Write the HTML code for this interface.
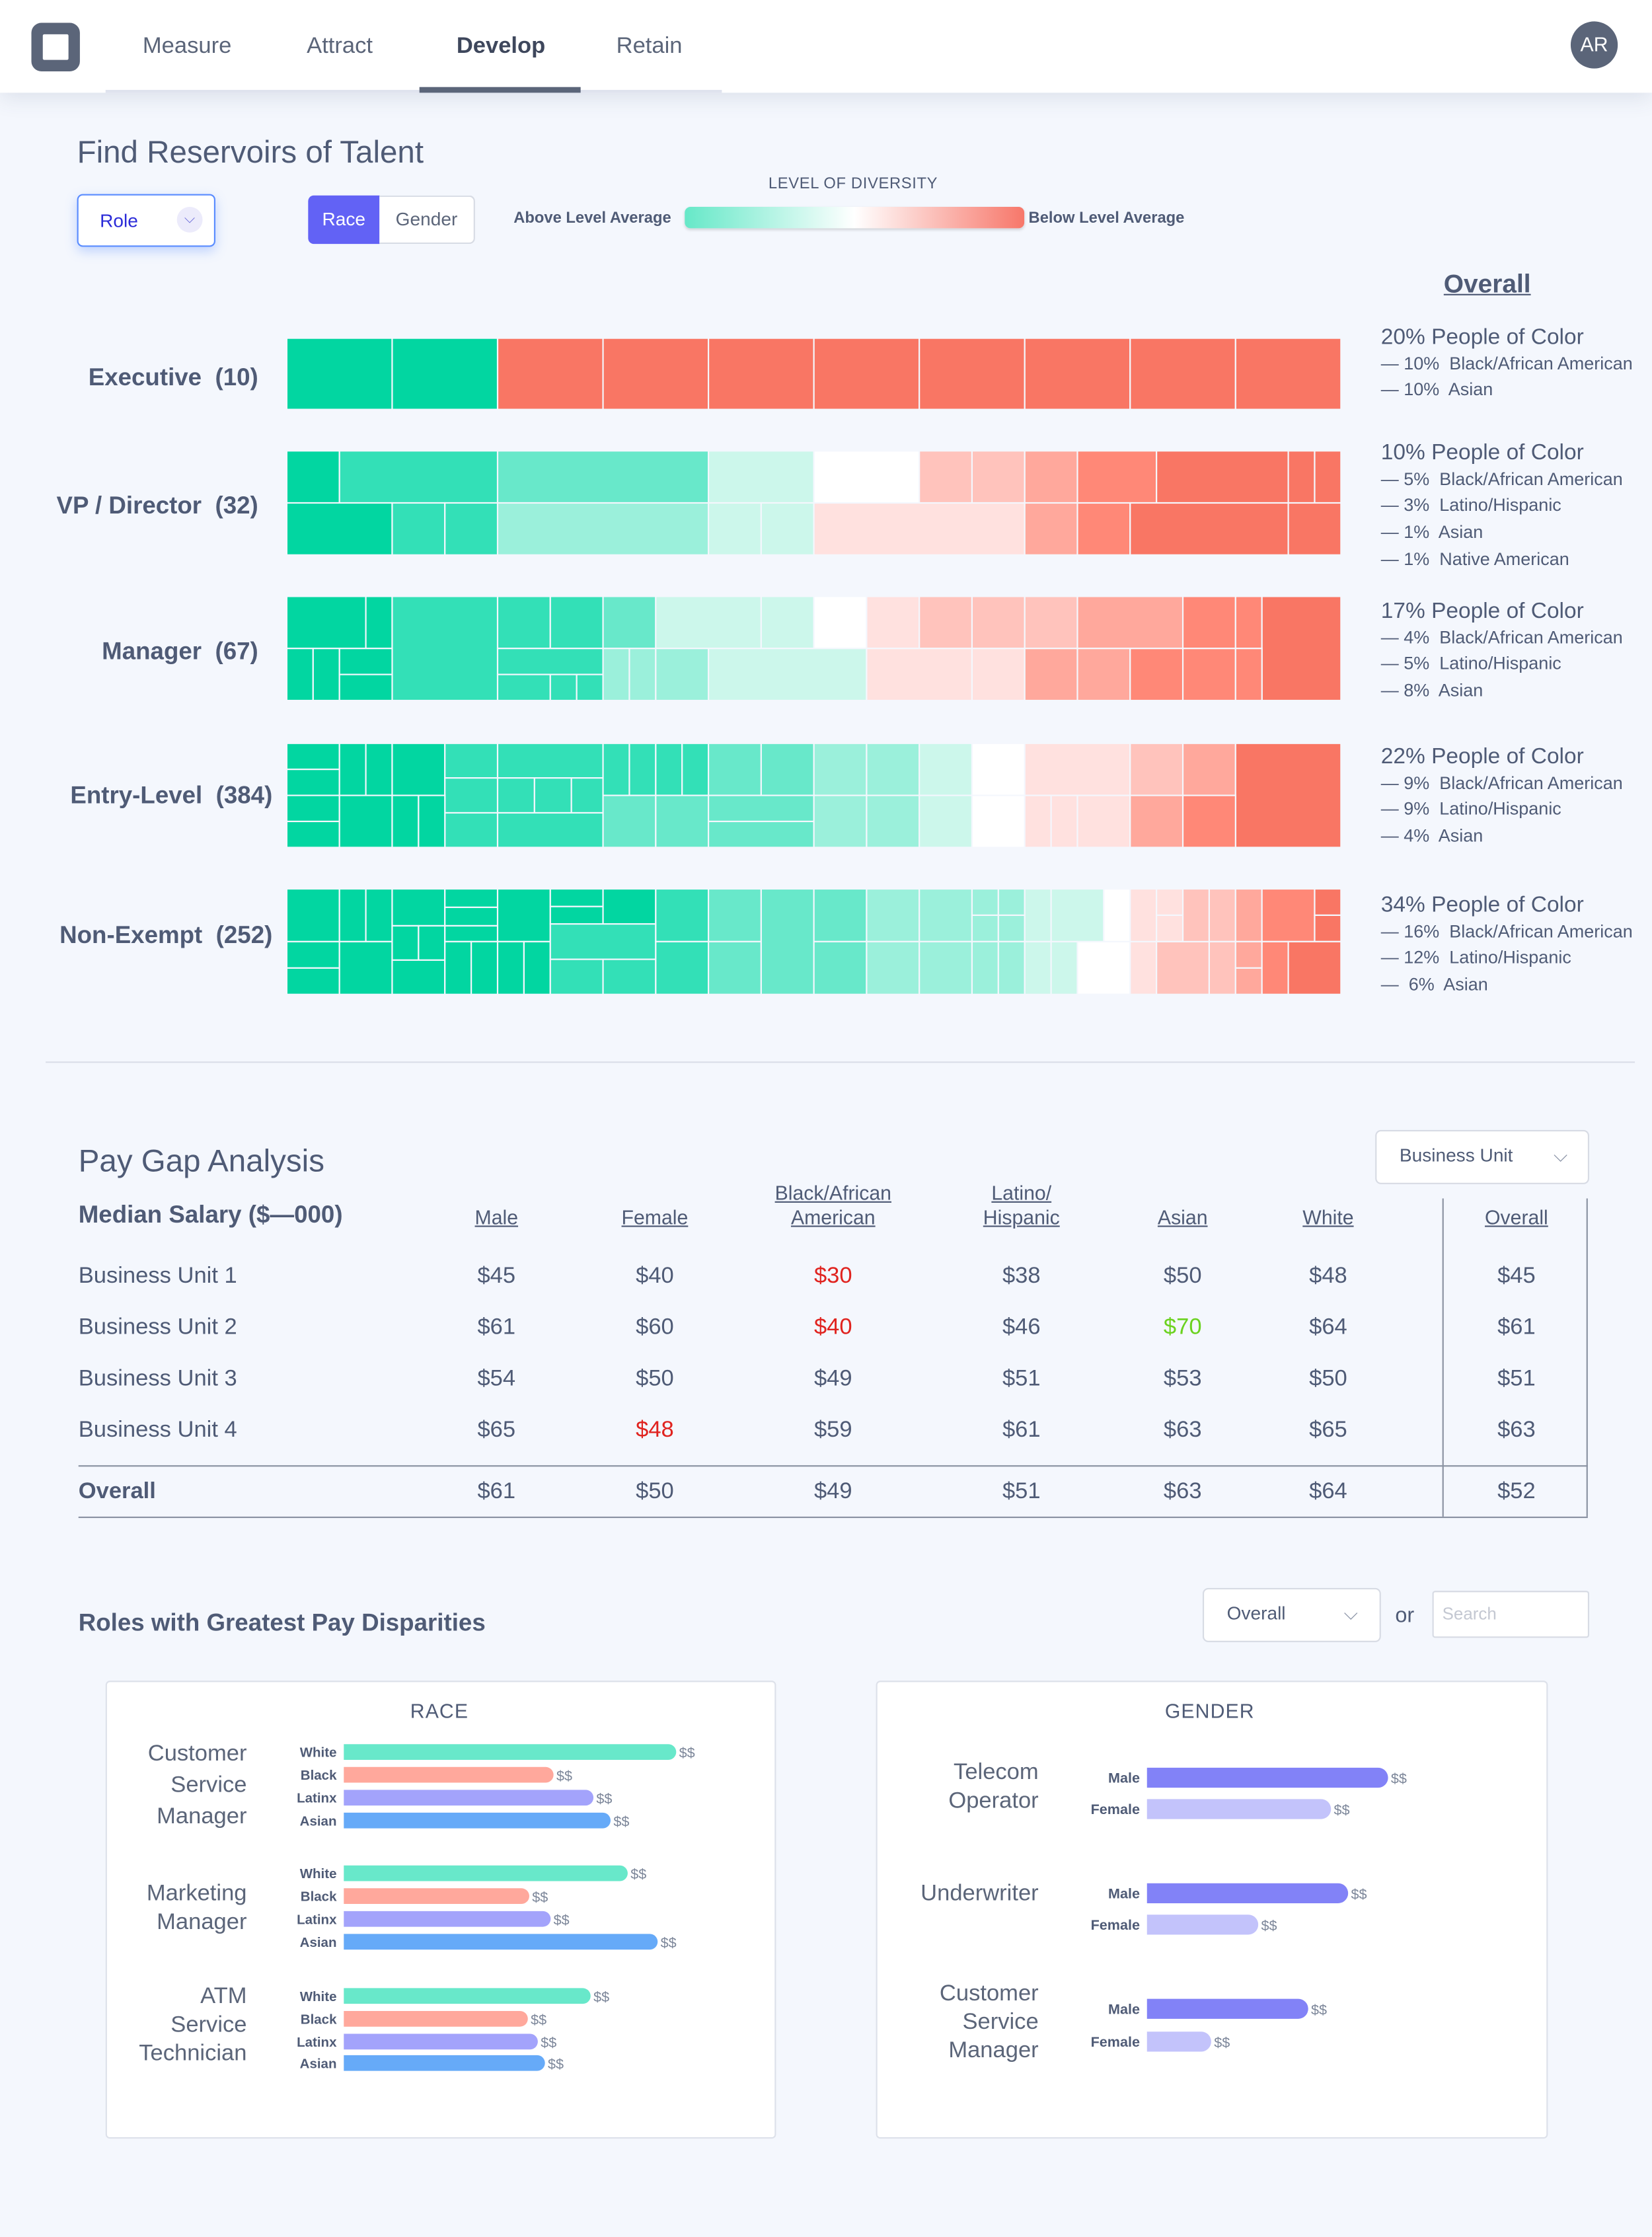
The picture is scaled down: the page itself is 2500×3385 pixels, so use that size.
<!DOCTYPE html>
<html><head><meta charset="utf-8"><style>
html,body{margin:0;padding:0;background:#f4f7fd;}
#root{position:absolute;left:0;top:0;width:1158px;height:1568px;transform:scale(2.15889);transform-origin:0 0;background:#f4f7fd;font-family:"Liberation Sans",sans-serif;color:#4f5b76;overflow:hidden;}
.a{position:absolute;white-space:nowrap;}
.hd{position:absolute;left:0;top:0;width:1158px;height:65px;background:#fff;box-shadow:0 4px 14px rgba(60,70,110,0.12);}
.nav{font-size:16px;color:#5b6579;top:24px;}
.c{transform:translateX(-50%);text-align:center;}
.th{font-size:14px;text-decoration:underline;color:#4f5b76;line-height:17px;}
.td{font-size:16px;}
.role{font-size:17px;font-weight:bold;color:#4f5b76;}
.ov{font-size:15.5px;color:#4f5b76;line-height:17.7px;}
.ov small{font-size:12.5px;}
.card{position:absolute;background:#fff;border:1px solid #dde1ea;border-radius:3px;}
.sel{position:absolute;background:#fff;border:1px solid #d7dbe4;border-radius:4px;font-size:13px;color:#4f5b76;}
</style></head><body>
<div id="root">
<div class="hd">
  <div class="a" style="left:22px;top:16px;width:34px;height:34px;background:#5b6579;border-radius:7px;"><div style="position:absolute;left:8px;top:8px;width:18px;height:18px;background:#fff;border-radius:1px;"></div></div>
  <div class="a nav" style="left:100px;">Measure</div>
  <div class="a nav" style="left:215px;">Attract</div>
  <div class="a nav" style="left:320px;font-weight:bold;color:#3e475c;">Develop</div>
  <div class="a nav" style="left:432px;">Retain</div>
  <div class="a" style="left:74px;top:63px;width:432px;height:2px;background:#dfe3ee;"></div>
  <div class="a" style="left:294px;top:61px;width:113px;height:4px;background:#5b6579;"></div>
  <div class="a" style="left:1101px;top:15px;width:33px;height:33px;border-radius:50%;background:#5b6579;color:#fff;font-size:14px;line-height:33px;text-align:center;">AR</div>
</div>

<div class="a" style="left:54px;top:94px;font-size:22px;color:#4f5b76;">Find Reservoirs of Talent</div>
<div class="a" style="left:54px;top:136px;width:95px;height:35px;background:#fff;border:1px solid #5a8cff;border-radius:4px;box-shadow:0 3px 8px rgba(90,140,255,0.35);">
  <span class="a" style="left:15px;top:10px;font-size:13px;color:#2b2bd8;">Role</span>
  <span class="a" style="left:69px;top:8px;width:18px;height:18px;border-radius:50%;background:#ecebfb;color:#6b6bd8;font-size:10px;text-align:center;line-height:18px;">⌵</span>
</div>
<div class="a" style="left:216px;top:137px;width:50px;height:34px;background:#6262f5;border-radius:4px 0 0 4px;color:#fff;font-size:13px;line-height:34px;text-align:center;">Race</div>
<div class="a" style="left:266px;top:137px;width:66px;height:32px;background:#fff;border:1px solid #d7dbe4;border-left:none;border-radius:0 4px 4px 0;color:#5b6579;font-size:13px;line-height:32px;text-align:center;">Gender</div>
<div class="a c" style="left:598px;top:123px;font-size:11px;letter-spacing:0.3px;color:#4f5b76;">LEVEL OF DIVERSITY</div>
<div class="a" style="left:360px;top:147px;font-size:11px;font-weight:bold;color:#4f5b76;">Above Level Average</div>
<div class="a" style="left:480px;top:145px;width:238px;height:15px;border-radius:4px;background:linear-gradient(90deg,#66e8c8,#ffffff 50%,#f7776a);box-shadow:0 1px 2px rgba(0,0,0,0.15);"></div>
<div class="a" style="left:721px;top:147px;font-size:11px;font-weight:bold;color:#4f5b76;">Below Level Average</div>

<div class="a" style="left:1012px;top:189px;font-size:18px;font-weight:bold;text-decoration:underline;color:#4f5b76;">Overall</div>

<div class="a role" style="right:977px;top:255px;">Executive&nbsp;&nbsp;(10)</div>
<div class="a role" style="right:977px;top:345px;">VP / Director&nbsp;&nbsp;(32)</div>
<div class="a role" style="right:977px;top:447px;">Manager&nbsp;&nbsp;(67)</div>
<div class="a role" style="right:967px;top:548px;">Entry-Level&nbsp;&nbsp;(384)</div>
<div class="a role" style="right:967px;top:646px;">Non-Exempt&nbsp;&nbsp;(252)</div>

<div class="a ov" style="left:968px;top:228px;">20% People of Color<br><small>— 10%&nbsp; Black/African American<br>— 10%&nbsp; Asian</small></div>
<div class="a ov" style="left:968px;top:309px;">10% People of Color<br><small>— 5%&nbsp; Black/African American<br>— 3%&nbsp; Latino/Hispanic<br>— 1%&nbsp; Asian<br>— 1%&nbsp; Native American</small></div>
<div class="a ov" style="left:968px;top:420px;">17% People of Color<br><small>— 4%&nbsp; Black/African American<br>— 5%&nbsp; Latino/Hispanic<br>— 8%&nbsp; Asian</small></div>
<div class="a ov" style="left:968px;top:522px;">22% People of Color<br><small>— 9%&nbsp; Black/African American<br>— 9%&nbsp; Latino/Hispanic<br>— 4%&nbsp; Asian</small></div>
<div class="a ov" style="left:968px;top:626px;">34% People of Color<br><small>— 16%&nbsp; Black/African American<br>— 12%&nbsp; Latino/Hispanic<br>— &nbsp;6%&nbsp; Asian</small></div>

<svg class="a" id="tm" style="left:0;top:0;" width="1158" height="720"></svg>

<div class="a" style="left:32px;top:744px;width:1114px;height:1px;background:#dadee8;"></div>

<div class="a" style="left:55px;top:801px;font-size:22px;color:#4f5b76;">Pay Gap Analysis</div>
<div class="sel" style="left:964px;top:792px;width:148px;height:36px;"><span class="a" style="left:16px;top:9px;">Business Unit</span><span class="a" style="left:124px;top:9px;color:#8a93a6;">⌵</span></div>
<div class="a" style="left:55px;top:842px;font-size:17px;font-weight:bold;color:#4f5b76;">Median Salary ($—000)</div>
<div class="a th c" style="left:348px;top:845px;">Male</div>
<div class="a th c" style="left:459px;top:845px;">Female</div>
<div class="a th c" style="left:584px;top:828px;">Black/African<br>American</div>
<div class="a th c" style="left:716px;top:828px;">Latino/<br>Hispanic</div>
<div class="a th c" style="left:829px;top:845px;">Asian</div>
<div class="a th c" style="left:931px;top:845px;">White</div>
<div class="a th c" style="left:1063px;top:845px;">Overall</div>
<div class="a" style="left:1011px;top:840px;width:1px;height:223px;background:#8a92a2;"></div>
<div class="a" style="left:1112px;top:840px;width:1px;height:223px;background:#8a92a2;"></div>
<div class="a" style="left:55px;top:1027px;width:1058px;height:1px;background:#8a92a2;"></div>
<div class="a" style="left:55px;top:1063px;width:1058px;height:1px;background:#8a92a2;"></div>
<div id="tbl"></div>

<div class="a" style="left:55px;top:1128px;font-size:17px;font-weight:bold;color:#4f5b76;">Roles with Greatest Pay Disparities</div>
<div class="sel" style="left:843px;top:1113px;width:123px;height:36px;"><span class="a" style="left:16px;top:9px;">Overall</span><span class="a" style="left:98px;top:9px;color:#8a93a6;">⌵</span></div>
<div class="a" style="left:978px;top:1124px;font-size:15px;">or</div>
<div class="sel" style="left:1004px;top:1115px;width:108px;height:31px;border-radius:2px;"><span class="a" style="left:6px;top:8px;font-size:12px;color:#c4c8d2;">Search</span></div>

<div class="card" style="left:74px;top:1178px;width:468px;height:319px;"></div>
<div class="card" style="left:614px;top:1178px;width:469px;height:319px;"></div>
<div class="a c" style="left:308px;top:1191px;font-size:14px;letter-spacing:0.5px;">RACE</div>
<div class="a c" style="left:848px;top:1191px;font-size:14px;letter-spacing:0.5px;">GENDER</div>
<div class="a" style="right:985px;top:1219px;font-size:16px;text-align:right;line-height:22px;color:#5b6579;white-space:normal;">Customer<br>Service<br>Manager</div>
<div class="a" style="right:985px;top:1318px;font-size:16px;text-align:right;line-height:20px;color:#5b6579;">Marketing<br>Manager</div>
<div class="a" style="right:985px;top:1390px;font-size:16px;text-align:right;line-height:20px;color:#5b6579;">ATM<br>Service<br>Technician</div>
<div class="a" style="right:430px;top:1233px;font-size:16px;text-align:right;line-height:20px;color:#5b6579;">Telecom<br>Operator</div>
<div class="a" style="right:430px;top:1319px;font-size:16px;text-align:right;color:#5b6579;">Underwriter</div>
<div class="a" style="right:430px;top:1388px;font-size:16px;text-align:right;line-height:20px;color:#5b6579;">Customer<br>Service<br>Manager</div>
<svg class="a" id="bars" style="left:0;top:1170px;" width="1158" height="340"></svg>
</div>

<script>
// ---- treemap data: [col, span, y0, y1, level] columns of 20, rows in quarters
const levelColors = ["#02d6a1","#33e0b7","#68e8ca","#9bf0db","#ccf7eb","#ffffff","#ffe1df","#ffc3bc","#ffa89c","#ff8877","#f97664"];
const rowNames = ["executive","vp-director","manager","entry-level","non-exempt"];
const rowTops = [237,316,418,521,623];
const rowHeights = [50,73,73,73,74];
const execCells = [[0,2,0,4,0],[2,2,0,4,0],[4,2,0,4,10],[6,2,0,4,10],[8,2,0,4,10],[10,2,0,4,10],[12,2,0,4,10],[14,2,0,4,10],[16,2,0,4,10],[18,2,0,4,10]];
const vpCells = [[0,1,0,2,0],[1,3,0,2,1],[4,4,0,2,2],[8,2,0,2,4],[10,2,0,2,5],[12,1,0,2,7],[13,1,0,2,7],[14,1,0,2,8],[15,1.5,0,2,9],[16.5,2.5,0,2,10],[19,0.5,0,2,10],[19.5,0.5,0,2,10],
 [0,2,2,4,0],[2,1,2,4,1],[3,1,2,4,1],[4,4,2,4,3],[8,1,2,4,4],[9,1,2,4,4],[10,4,2,4,6],[14,1,2,4,8],[15,1,2,4,9],[16,3,2,4,10],[19,1,2,4,10]];
const mgrCells = [[0,1.5,0,2,0],[1.5,0.5,0,2,0],[2,2,0,4,1],[4,1,0,2,1],[5,1,0,2,1],[6,1,0,2,2],[7,2,0,2,4],[9,1,0,2,4],[10,1,0,2,5],[11,1,0,2,6],[12,1,0,2,7],[13,1,0,2,7],[14,1,0,2,7],[15,2,0,2,8],[17,1,0,2,9],[18,0.5,0,2,9],[18.5,1.5,0,4,10],
 [0,0.5,2,4,0],[0.5,0.5,2,4,0],[1,1,2,3,0],[1,1,3,4,0],[4,2,2,3,1],[4,1,3,4,1],[5,0.5,3,4,1],[5.5,0.5,3,4,1],[6,0.5,2,4,3],[6.5,0.5,2,4,3],[7,1,2,4,3],[8,3,2,4,4],[11,2,2,4,6],[13,1,2,4,6],[14,1,2,4,8],[15,1,2,4,8],[16,1,2,4,9],[17,1,2,4,9],[18,0.5,2,4,9]];
const entryCells = [[0,1,0,1,0],[0,1,1,2,0],[1,0.5,0,2,0],[1.5,0.5,0,2,0],[2,1,0,2,0],[3,1,0,1.33,1],[4,2,0,1.33,1],[3,1,1.33,2.67,1],[4,0.7,1.33,2.67,1],[4.7,0.7,1.33,2.67,1],[5.4,0.6,1.33,2.67,1],[3,1,2.67,4,1],[4,2,2.67,4,1],[6,0.5,0,2,1],[6.5,0.5,0,2,1],[7,0.5,0,2,1],[7.5,0.5,0,2,1],[8,1,0,2,2],[9,1,0,2,2],[10,1,0,2,3],[11,1,0,2,3],[12,1,0,2,4],[13,1,0,2,5],[14,2,0,2,6],[16,1,0,2,7],[17,1,0,2,8],[18,2,0,4,10],
 [0,1,2,3,0],[0,1,3,4,0],[1,1,2,4,0],[2,0.5,2,4,0],[2.5,0.5,2,4,0],[6,1,2,4,2],[7,1,2,4,2],[8,2,2,3,2],[8,2,3,4,2],[10,1,2,4,3],[11,1,2,4,3],[12,1,2,4,4],[13,1,2,4,5],[14,0.5,2,4,6],[14.5,0.5,2,4,6],[15,1,2,4,6],[16,1,2,4,8],[17,1,2,4,9]];
const nonexCells = [[0,1,0,2,0],[0,1,2,3,0],[0,1,3,4,0],[1,0.5,0,2,0],[1.5,0.5,0,2,0],[1,1,2,4,0],[2,1,0,1.4,0],[2,0.5,1.4,2.7,0],[2.5,0.5,1.4,2.7,0],[2,1,2.7,4,0],[3,1,0,0.7,0],[3,1,0.7,1.4,0],[3,1,1.4,2,0],[3,0.5,2,4,0],[3.5,0.5,2,4,0],[4,1,0,2,0],[4,0.5,2,4,0],[4.5,0.5,2,4,0],[5,1,0,0.67,0],[5,1,0.67,1.33,0],[6,1,0,1.33,0],[5,2,1.33,2.67,1],[5,1,2.67,4,1],[6,1,2.67,4,1],[7,1,0,2,1],[7,1,2,4,1],[8,1,0,2,2],[8,1,2,4,2],[9,1,0,4,2],[10,1,0,2,2],[10,1,2,4,2],[11,1,0,2,3],[11,1,2,4,3],[12,1,0,2,3],[12,1,2,4,3],[13,0.5,0,1,3],[13.5,0.5,0,1,3],[13,0.5,1,2,3],[13.5,0.5,1,2,3],[13,0.5,2,4,3],[13.5,0.5,2,4,3],[14,0.5,0,2,4],[14.5,1,0,2,4],[14,0.5,2,4,4],[14.5,0.5,2,4,4],[15,1,2,4,5],[15.5,0.5,0,2,5],[16,0.5,0,2,6],[16.5,0.5,0,1,6],[16.5,0.5,1,2,6],[16,0.5,2,4,6],[16.5,1,2,4,7],[17,0.5,0,2,7],[17.5,0.5,0,2,7],[17.5,0.5,2,4,7],[18,0.5,0,2,8],[18,0.5,2,3,8],[18,0.5,3,4,8],[18.5,1,0,2,9],[18.5,0.5,2,4,9],[19.5,0.5,0,1,10],[19.5,0.5,1,2,10],[19,1,2,4,10]];
const allRows = [execCells,vpCells,mgrCells,entryCells,nonexCells];

// ---- pay gap table data
const tableRows = ["Business Unit 1","Business Unit 2","Business Unit 3","Business Unit 4","Overall"];
const tableCols = ["male","female","black","latino","asian","white","overall"];
const tableValues = [[45,40,30,38,50,48,45],[61,60,40,46,70,64,61],[54,50,49,51,53,50,51],[65,48,59,61,63,65,63],[61,50,49,51,63,64,52]];
const tableFlags = [[0,0,1,0,0,0,0],[0,0,1,0,2,0,0],[0,0,0,0,0,0,0],[0,1,0,0,0,0,0],[0,0,0,0,0,0,0]];

// ---- disparity bars data (relative salary units)
const raceGroups = ["customer-service-manager","marketing-manager","atm-service-technician"];
const raceLabels = ["White","Black","Latinx","Asian"];
const raceValues = [[233,147,175,187],[199,130,145,220],[173,129,136,141]];
const genderGroups = ["telecom-operator","underwriter","customer-service-manager"];
const genderLabels = ["Male","Female"];
const genderValues = [[169,129],[141,78],[113,45]];

const NS="http://www.w3.org/2000/svg";
function mk(tag,attrs,parent){const e=document.createElementNS(NS,tag);for(const k in attrs)e.setAttribute(k,attrs[k]);parent.appendChild(e);return e;}

// treemap axes
const tmX0=201, tmW=739, tmCols=20;
const xCol=c=>tmX0+c*tmW/tmCols;
const tm=document.getElementById('tm');
allRows.forEach((cells,r)=>{
  const yq=q=>rowTops[r]+q*rowHeights[r]/4;
  cells.forEach((c,i)=>{
    const rect=mk('rect',{x:xCol(c[0]),y:yq(c[2]),width:xCol(c[0]+c[1])-xCol(c[0]),height:yq(c[3])-yq(c[2]),fill:levelColors[c[4]],stroke:'#f4f7fd','stroke-width':1},tm);
    
    
  });
});

// table
const colX=[348,459,584,716,829,931,1063];
const rowY=[886,922,958,994,1037];
const tbl=document.getElementById('tbl');
tableRows.forEach((name,r)=>{
  const l=document.createElement('div');
  l.className='a td';l.style.left='55px';l.style.top=rowY[r]+'px';
  if(r===4)l.style.fontWeight='bold';
  l.textContent=name;
  
  
  tbl.appendChild(l);
  tableValues[r].forEach((v,c)=>{
    const d=document.createElement('div');
    d.className='a td c';d.style.left=colX[c]+'px';d.style.top=rowY[r]+'px';
    const f=tableFlags[r][c];
    d.style.color=f===1?'#e0231f':(f===2?'#6bd21f':'#4f5b76');
    d.textContent='$'+v;
    
    
    tbl.appendChild(d);
  });
});

// bars
const bars=document.getElementById('bars');
const raceColors=["#68e8ca","#ffa89c","#a3a3fb","#66aaf8"];
const genderColors=["#8282f7","#c3c3fb"];
const raceX=241, genderX=804, pxPerUnit=1;
const bx=(x0,v)=>x0+v*pxPerUnit;
const raceRowY=[[1228,1244,1260,1276],[1313,1329,1345,1361],[1399,1415,1431,1446]];
const genderRowY=[[1246,1268],[1327,1349],[1408,1431]];
function drawBar(x0,v,cy,h,color,label,name){
  const g=mk('g',{},bars);
  
  
  const y=cy-1170;
  mk('path',{d:`M${x0},${y-h/2} H${bx(x0,v)-h/2} A${h/2},${h/2} 0 0 1 ${bx(x0,v)-h/2},${y+h/2} H${x0} Z`,fill:color},g);
  const t=mk('text',{x:x0-5,y:y+3.5,'text-anchor':'end','font-size':h>12?10:9.5,'font-weight':'bold',fill:'#4f5b76','font-family':'Liberation Sans, sans-serif'},g);t.textContent=label;
  const s=mk('text',{x:bx(x0,v)+2,y:y+4,'font-size':10,fill:'#7d879a','font-family':'Liberation Sans, sans-serif'},g);s.textContent='$$';
}
raceValues.forEach((vals,gi)=>vals.forEach((v,i)=>drawBar(raceX,v,raceRowY[gi][i],11,raceColors[i],raceLabels[i],'race-bar-'+raceGroups[gi]+'-'+raceLabels[i].toLowerCase())));
genderValues.forEach((vals,gi)=>vals.forEach((v,i)=>drawBar(genderX,v,genderRowY[gi][i],14,genderColors[i],genderLabels[i],'gender-bar-'+genderGroups[gi]+'-'+genderLabels[i].toLowerCase())));
</script>
</body></html>
